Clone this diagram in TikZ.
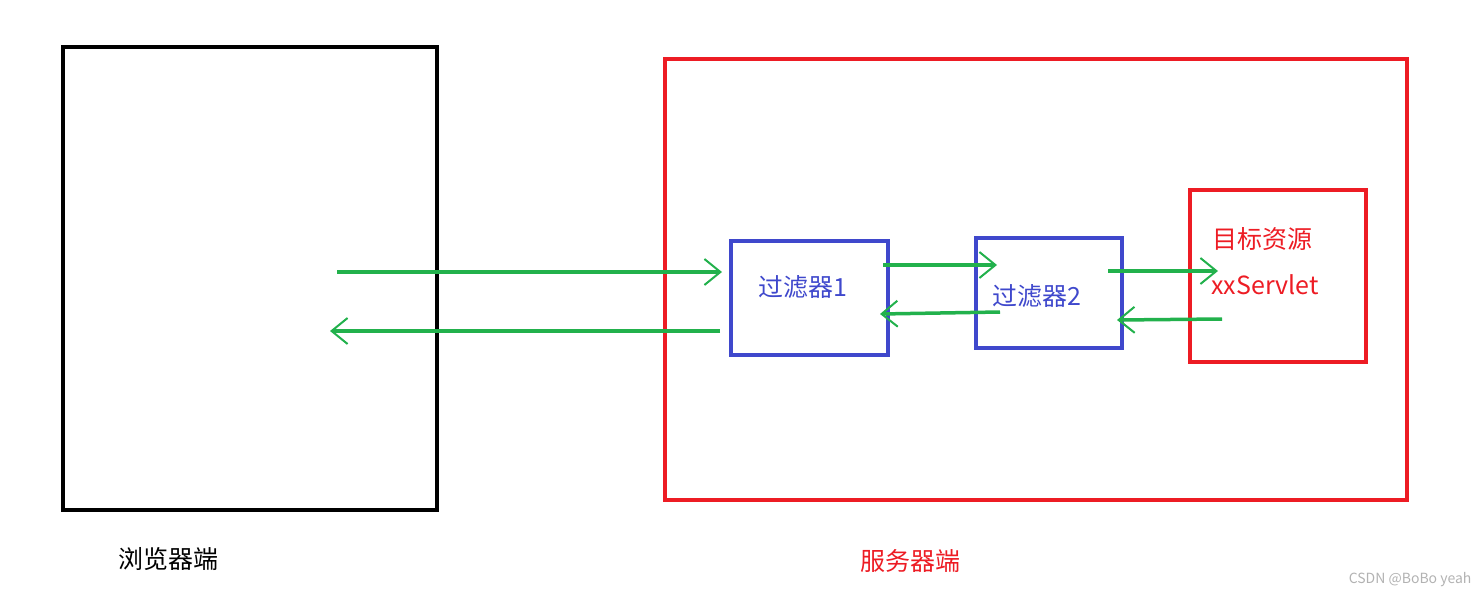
\documentclass[tikz,border=0pt]{standalone}
\usepackage{fontspec}
\setmainfont{Noto Sans CJK SC}
\usetikzlibrary{arrows.meta}
\definecolor{gr}{RGB}{34,177,76}
\definecolor{rd}{RGB}{237,28,36}
\definecolor{bl}{RGB}{63,72,204}
\begin{document}
\begin{tikzpicture}[x=1pt,y=-1pt,
  flow/.style={draw=gr,line width=3.5pt,-{Straight Barb[length=16pt,width=26pt,line width=2pt]}},
  box/.style={draw,line width=4pt},
  lbl/.style={font=\fontsize{25}{29}\selectfont,inner sep=0pt}]
\useasboundingbox (0,0) rectangle (1481,598);
\draw[box,black] (63,47) rectangle (437,510);
\draw[box,rd] (665,59) rectangle (1407,500);
\draw[box,bl] (731,241) rectangle (888,355);
\draw[box,bl] (976,238) rectangle (1122,348);
\draw[box,rd] (1190,190) rectangle (1366,362);
\node[lbl,text=bl] (f1) at (803,287) {过滤器1};
\node[lbl,text=bl] (f2) at (1037,296) {过滤器2};
\node[lbl,text=rd] (t1) at (1262,239) {目标资源};
\node[lbl,text=rd] (t2) at (1265,285) {xxServlet};
\node[lbl,text=black] (b) at (168,559) {浏览器端};
\node[lbl,text=rd] (s) at (910,561) {服务器端};
\node[font=\fontsize{14}{16}\selectfont,text=gray!60,anchor=east] (w) at (1475,580) {CSDN @BoBo yeah};
\coordinate (a1) at (337,272); \coordinate (a2) at (722,272);
\coordinate (b1) at (720,331); \coordinate (b2) at (330,331);
\coordinate (c1) at (883,265); \coordinate (c2) at (997,265);
\coordinate (d1) at (1000,312); \coordinate (d2) at (880,314);
\coordinate (e1) at (1108,271); \coordinate (e2) at (1218,271);
\coordinate (g1) at (1222,319); \coordinate (g2) at (1117,320);
\draw[flow] (a1) -- (a2);
\draw[flow] (b1) -- (b2);
\draw[flow] (c1) -- (c2);
\draw[flow] (d1) -- (d2);
\draw[flow] (e1) -- (e2);
\draw[flow] (g1) -- (g2);
\end{tikzpicture}
\end{document}
